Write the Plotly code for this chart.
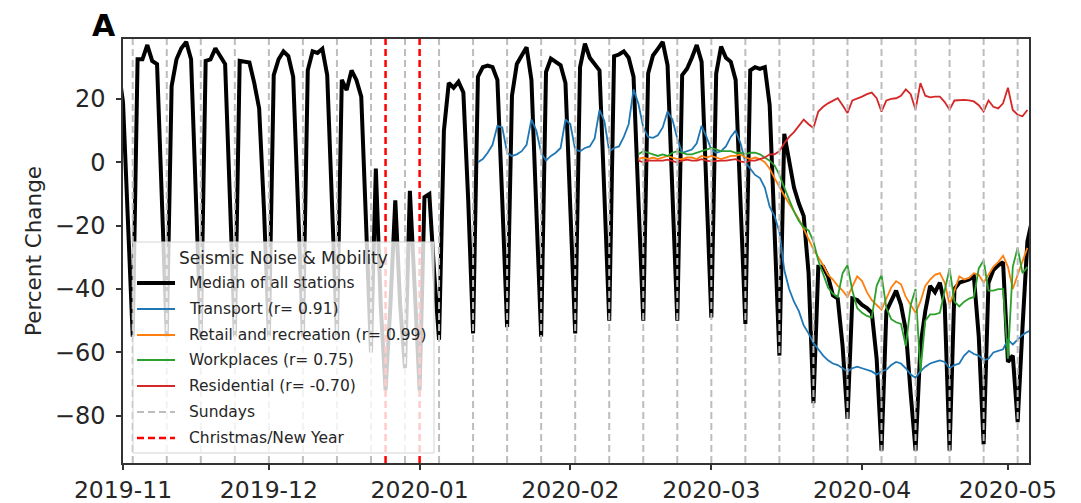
import plotly.graph_objects as go
import pandas as pd

# ---------------- data ----------------
black_start, black_end = "2019-10-31", "2020-05-06"
median_all_stations = [
    30, 19, -18, -55,                      # Oct31-Nov3
    32.5, 32.5, 37, 32, 31, -12, -55,      # Nov4-10
    24, 32.5, 36, 38, 32.5, -12, -55,      # Nov11-17
    32, 32.5, 36, 33.5, 31, -12, -55,      # Nov18-24
    32, 31.7, 31.5, 25, 17, -15, -55,      # Nov25-Dec1
    27.5, 32.5, 35, 33.5, 27, -12, -55,    # Dec2-8
    29, 35, 34.5, 35.8, 27.5, -12, -55,    # Dec9-15
    26, 22.8, 29, 26, 20.7, -18, -60,      # Dec16-22
    -2, -45, -72, -45, -12, -45, -65,      # Dec23-29
    -9, -40, -72, -11, -10, -35, -56,      # Dec30-Jan5
    10, 25, 23.5, 25.4, 22, -12, -54,      # Jan6-12
    27, 30, 30.5, 30, 26, -12, -52,        # Jan13-19
    21, 31, 33.7, 36.3, 26, -12, -55,      # Jan20-26
    28.5, 32.7, 31.7, 30.6, 25, -12, -54,  # Jan27-Feb2
    30, 37.4, 33, 31, 29, -10, -50,        # Feb3-9
    33.5, 34, 35, 33, 27, -10, -50,        # Feb10-16
    28, 33.7, 35.8, 38, 30.6, -10, -50,    # Feb17-23
    27.5, 29.5, 33, 37, 31.7, -10, -49,    # Feb24-Mar1
    28, 36.5, 33, 31.7, 26, -12, -51,      # Mar2-8
    29, 30, 29.5, 30, 18, -25, -61,        # Mar9-15
    9, 0, -8, -13, -17, -35, -76,          # Mar16-22
    -33, -33, -36, -42, -43, -58, -81,     # Mar23-29
    -43, -43.5, -45, -46, -47.5, -62, -91, # Mar30-Apr5
    -47, -44, -40.5, -45, -53, -73, -91,   # Apr6-12
    -58, -47, -39, -41, -38, -45, -91,     # Apr13-19
    -40, -38, -37.5, -37, -36, -55, -89,   # Apr20-26
    -38, -34, -32.5, -31.5, -63, -61, -82, # Apr27-May3
    -52, -25, -18,                         # May4-6
]

transport_start, transport_end = "2020-01-13", "2020-05-06"
transport = [
    0, 1, 3, 5.5, 11.5, 11, 3,
    2, 2.5, 3.5, 5.5, 13.5, 10, 3,
    0.5, 2, 3, 4.5, 13.5, 12, 4,
    3.5, 4.5, 5, 7.5, 16.5, 13, 3.5,
    4.5, 5, 8, 12, 23, 18.5, 11,
    8, 7.7, 8.5, 11, 16, 13.5, 7.5,
    3, 3.5, 4, 6, 11.5, 8, 4,
    3, 3.5, 5, 8, 10, 6, 0,
    -2, -4, -5, -8, -14, -17, -22,
    -34, -40, -44, -47, -51.5, -54, -57,
    -59, -61, -62.5, -63.5, -64, -65, -66,
    -65, -64.5, -65, -65.5, -66, -67, -66,
    -65.5, -64, -63, -63.5, -65, -67, -68,
    -66, -64.5, -63.5, -63, -62.5, -63, -65,
    -64, -63.5, -61, -59.5, -60.5, -61, -62.5,
    -62, -60, -59.5, -59, -56, -57.5, -56,
    -54.5, -53.5, -53,
]

google_start, google_end = "2020-02-15", "2020-05-05"
retail = [
    1, 1.5,
    1, 1.5, 1, 1.5, 2, 1.5, 1,
    1, 1.5, 1.5, 1, 2, 1.5, 2,
    1.5, 1, 1.5, 2, 2, 2.5, 1.5,
    1, 1.5, 1, 0, -2, -5, -8,
    -10.5, -13, -15.5, -18, -21, -24.5, -27.5,
    -30, -32.5, -35.5, -37, -39, -40.5, -42.5,
    -39, -36, -37.5, -41, -43.5, -45, -46.5,
    -43, -39.5, -37.5, -38.5, -42.5, -45, -47.5,
    -44, -39, -37, -35.5, -35, -38, -45,
    -40.5, -36, -37, -36.5, -35, -35.5, -38,
    -35.5, -33, -31.5, -29.5, -33, -40, -35.5,
    -31, -27,
]
workplaces = [
    2.5, 3.5,
    3, 2.5, 2, 2.5, 2, 3, 3.5,
    3, 2.5, 2.5, 3, 3.5, 4, 4.5,
    4, 3.5, 3.5, 3.5, 3, 3, 2.5,
    3, 3, 2.5, 1.5, 0.5, -1, -4,
    -8, -12, -15.5, -18.5, -20.5, -21.5, -25,
    -31, -35.5, -39.5, -41.5, -42.5, -35, -32.5,
    -40.5, -46, -47.5, -48.5, -49, -39, -35.5,
    -46, -49.5, -50.5, -51, -58, -45, -40,
    -66, -50, -48, -48, -47.5, -40, -33.5,
    -44, -45.5, -44, -43, -42.5, -33.5, -31,
    -40.5, -40.5, -40, -40, -62, -33, -27,
    -35, -33,
]
residential = [
    0.5, 0,
    0.5, 0.5, 0.3, 0.5, 0.8, 0.3, 0,
    0.5, 0.8, 0.5, 0.5, 1, 0.5, 0.3,
    0.5, 0.5, 0.5, 0.8, 1, 0.3, 0,
    0.5, 0.5, 1, 1.5, 2.5, 2.5, 3.5,
    6, 8, 9.5, 11.5, 13.5, 12, 10.8,
    16, 17.5, 18.6, 19.5, 20.2, 18, 15.5,
    19.5, 20, 20.7, 21.5, 22, 20.2, 16,
    19.5, 20, 20.2, 21, 23, 21.5, 16.6,
    25, 21, 20.5, 20.7, 20.7, 19, 16.6,
    19.5, 19.7, 19.7, 19.5, 19.2, 18, 16,
    19.5, 17.5, 17, 18.6, 23.5, 16.5, 15,
    14.5, 16.5,
]

holiday_dates = ["2019-12-25", "2020-01-01"]
sunday_first, sunday_last = "2019-11-03", "2020-05-03"

x_tick_vals = ["2019-11-01", "2019-12-01", "2020-01-01", "2020-02-01",
               "2020-03-01", "2020-04-01", "2020-05-01"]
x_tick_text = ["2019-11", "2019-12", "2020-01", "2020-02", "2020-03", "2020-04", "2020-05"]
y_tick_vals = [-80, -60, -40, -20, 0, 20]
y_tick_text = ["\u221280", "\u221260", "\u221240", "\u221220", "0", "20"]

legend_labels = ["Median of all stations", "Transport (r= 0.91)",
                 "Retail and recreation (r= 0.99)", "Workplaces (r= 0.75)",
                 "Residential (r= -0.70)", "Sundays", "Christmas/New Year"]

# ---------------- figure ----------------
# page body has an 8px margin: the figure is drawn 8px right/down
OFF = 8
W, H = 1081 - OFF, 503 - OFF
PL, PR, PT, PB = 123, 1029, 39, 463          # plot area in screen pixels
L, T = PL - OFF, PT - OFF
R, B = W - (PR - OFF), H - (PB - OFF)
PW, PH = PR - PL, PB - PT
FONT = "DejaVu Sans"

def pxx(p):
    return (p - PL) / PW

def pxy(p):
    return (PB - p) / PH

c_black, c_blue, c_orange, c_green, c_red = "#000000", "#1f77b4", "#ff7f0e", "#2ca02c", "#d62728"
c_sun, c_xmas = "#bdbdbd", "#ff0000"

bd = pd.date_range(black_start, black_end)
td = pd.date_range(transport_start, transport_end)
gd = pd.date_range(google_start, google_end)
sundays = pd.date_range(sunday_first, sunday_last, freq="7D")

fig = go.Figure()
fig.add_trace(go.Scatter(x=bd, y=median_all_stations, mode="lines",
                         line=dict(color=c_black, width=4), name=legend_labels[0]))
fig.add_trace(go.Scatter(x=td, y=transport, mode="lines",
                         line=dict(color=c_blue, width=1.8), name=legend_labels[1]))
fig.add_trace(go.Scatter(x=gd, y=retail, mode="lines",
                         line=dict(color=c_orange, width=1.8), name=legend_labels[2]))
fig.add_trace(go.Scatter(x=gd, y=workplaces, mode="lines",
                         line=dict(color=c_green, width=1.8), name=legend_labels[3]))
fig.add_trace(go.Scatter(x=gd, y=residential, mode="lines",
                         line=dict(color=c_red, width=1.8), name=legend_labels[4]))

shapes = []
for s in sundays:
    shapes.append(dict(type="line", xref="x", yref="paper", x0=s, x1=s, y0=0, y1=1,
                       layer="above", line=dict(color=c_sun, width=2, dash="7px,4px")))
for h in holiday_dates:
    shapes.append(dict(type="line", xref="x", yref="paper", x0=h, x1=h, y0=0, y1=1,
                       layer="above", line=dict(color=c_xmas, width=2.5, dash="7px,4px")))

# manual legend box
lx0, lx1, ly0, ly1 = 133, 434, 242, 453
shapes.append(dict(type="rect", xref="paper", yref="paper",
                   x0=pxx(lx0), x1=pxx(lx1), y0=pxy(ly1), y1=pxy(ly0), layer="above",
                   fillcolor="rgba(255,255,255,0.8)", line=dict(color="#d4d4d4", width=1)))
item_y = [283, 309, 335, 360, 386, 412, 438]
item_style = [(c_black, 4, "solid"), (c_blue, 1.8, "solid"), (c_orange, 1.8, "solid"),
              (c_green, 1.8, "solid"), (c_red, 1.8, "solid"), (c_sun, 2, "7px,4px"),
              (c_xmas, 2.5, "7px,4px")]
annotations = []
for lab, yy, (col, wd, ds) in zip(legend_labels, item_y, item_style):
    shapes.append(dict(type="line", xref="paper", yref="paper", x0=pxx(137), x1=pxx(175),
                       y0=pxy(yy), y1=pxy(yy), layer="above", line=dict(color=col, width=wd, dash=ds)))
    annotations.append(dict(text=lab, xref="paper", yref="paper", x=pxx(187), y=pxy(yy),
                            xanchor="left", yanchor="middle", showarrow=False,
                            font=dict(family=FONT, size=15.5, color="#262626")))
annotations.append(dict(text="Seismic Noise &amp; Mobility", xref="paper", yref="paper",
                        x=pxx((lx0 + lx1) / 2), y=pxy(258), xanchor="center", yanchor="middle",
                        showarrow=False, font=dict(family=FONT, size=17, color="#262626")))
annotations.append(dict(text="<b>A</b>", xref="paper", yref="paper", x=pxx(104), y=pxy(25),
                        xanchor="center", yanchor="middle", showarrow=False,
                        font=dict(family=FONT, size=30, color="#000000")))
annotations.append(dict(text="Percent Change", xref="paper", yref="paper", x=pxx(33), y=pxy(251),
                        xanchor="center", yanchor="middle", textangle=-90, showarrow=False,
                        font=dict(family=FONT, size=21.5, color="#262626")))

fig.update_layout(
    width=W, height=H, margin=dict(l=L, r=R, t=T, b=B, autoexpand=False),
    paper_bgcolor="white", plot_bgcolor="white", showlegend=False,
    shapes=shapes, annotations=annotations,
    xaxis=dict(type="date", range=["2019-11-01", "2020-05-05 08:00"],
               tickvals=x_tick_vals, ticktext=x_tick_text, showgrid=False, zeroline=False,
               showline=True, mirror=True, linecolor="#333333", linewidth=1.5,
               ticks="outside", ticklen=5, tickwidth=1.5, tickcolor="#333333",
               tickfont=dict(family=FONT, size=23.5, color="#262626"), ticklabelstandoff=0),
    yaxis=dict(range=[-94.9, 38.9], tickvals=y_tick_vals, ticktext=y_tick_text,
               showgrid=False, zeroline=False,
               showline=True, mirror=True, linecolor="#333333", linewidth=1.5,
               ticks="outside", ticklen=5, tickwidth=1.5, tickcolor="#333333",
               tickfont=dict(family=FONT, size=24, color="#262626"), ticklabelstandoff=6),
)

fig.write_html("out.html")
